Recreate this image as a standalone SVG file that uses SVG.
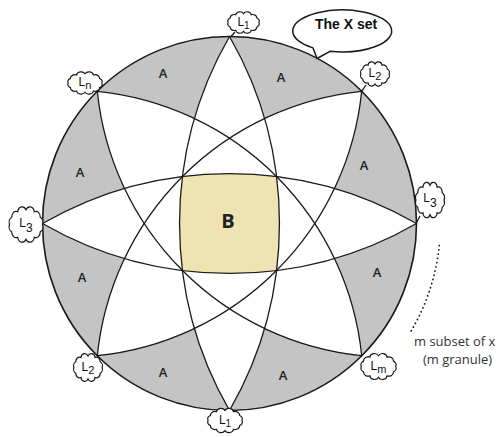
<svg xmlns="http://www.w3.org/2000/svg" width="501" height="437" viewBox="0 0 501 437">
<style>
.ln{fill:none;stroke:#1a1a1a;stroke-width:1.3;stroke-linejoin:round}
.lbl{font-family:"Open Sans","Liberation Sans",sans-serif;fill:#222;text-anchor:middle}
.a{font-size:13px;font-weight:600}
.cl{fill:#fff;stroke:#1a1a1a;stroke-width:1.2}
.ct{font-family:"Liberation Sans",Arial,sans-serif;font-size:12px;fill:#111;text-anchor:middle}
.note{font-family:"Open Sans","Liberation Sans",sans-serif;font-size:13px;fill:#333}
</style>
<defs>
<path id="vl" d="M229.5 36.5A375 375 0 0 1 229.5 410.5A375 375 0 0 1 229.5 36.5Z"/>
<path id="hl" d="M42.5 223.5A375 375 0 0 1 416.5 223.5A375 375 0 0 1 42.5 223.5Z"/>
<path id="d1" d="M97.3 91.3A296 296 0 0 1 361.7 355.7A296 296 0 0 1 97.3 91.3Z"/>
<path id="d2" d="M361.7 91.3A296 296 0 0 1 97.3 355.7A296 296 0 0 1 361.7 91.3Z"/>
<clipPath id="hclip"><use href="#hl"/></clipPath>
<path id="cloud" vector-effect="non-scaling-stroke" d="M15 0A4 4 0 0 1 12.99 5.25A4 4 0 0 1 7.5 9.09A4 4 0 0 1 0 10.5A4 4 0 0 1 -7.5 9.09A4 4 0 0 1 -12.99 5.25A4 4 0 0 1 -15 0A4 4 0 0 1 -12.99 -5.25A4 4 0 0 1 -7.5 -9.09A4 4 0 0 1 0 -10.5A4 4 0 0 1 7.5 -9.09A4 4 0 0 1 12.99 -5.25A4 4 0 0 1 15 0Z"/>
</defs>

<g id="disc"><circle cx="229.5" cy="223.5" r="187" fill="#c4c4c4"/></g>
<g id="lens-fill" fill="#fff"><use href="#vl"/><use href="#hl"/><use href="#d1"/><use href="#d2"/></g>
<g id="B-fill"><use href="#vl" fill="#efe3b2" clip-path="url(#hclip)"/></g>

<g id="connectors" class="ln">
<use href="#vl"/><use href="#hl"/><use href="#d1"/><use href="#d2"/>
<circle cx="229.5" cy="223.5" r="187" stroke-width="1.6"/>
<path d="M235 32L231 36.5M366 85L361.7 91.3M420 216L416.5 222.5"/>
<path d="M439.3 245.6A211 211 0 0 1 410.4 332.2" stroke-width="1.8" stroke-linecap="round" stroke-dasharray="0.1 4.2"/>
</g>

<g id="labels-A" class="lbl a">
<text x="163" y="78">A</text>
<text x="281" y="82">A</text>
<text x="364" y="170">A</text>
<text x="80" y="177">A</text>
<text x="82" y="282">A</text>
<text x="377" y="277">A</text>
<text x="163" y="377">A</text>
<text x="283" y="380">A</text>
</g>
<g id="label-B"><text class="lbl" x="228" y="228" font-size="20" font-weight="700" fill="#111">B</text></g>

<g id="L1-top" transform="translate(243.5,22.5)"><use href="#cloud" class="cl" transform="scale(1.03,0.85)"/><text class="ct" y="3">L<tspan font-size="10" dy="3">1</tspan></text></g>
<g id="L2-upper" transform="translate(375,74)"><use href="#cloud" class="cl" transform="scale(0.94,0.96)"/><text class="ct" y="3">L<tspan font-size="11" dy="3">2</tspan></text></g>
<g id="L3-right" transform="translate(430,200)"><use href="#cloud" class="cl" transform="scale(0.94,1.4)"/><text class="ct" y="2">L<tspan font-size="12" dy="5">3</tspan></text></g>
<g id="Lm" transform="translate(378.5,366.5)"><use href="#cloud" class="cl" transform="scale(1.15,1.03)"/><text class="ct" y="3">L<tspan font-size="11" dy="3">m</tspan></text></g>
<g id="L1-bottom" transform="translate(225,420.5)"><use href="#cloud" class="cl" transform="scale(1.13,0.96)"/><text class="ct" y="3">L<tspan font-size="10" dy="3">1</tspan></text></g>
<g id="L2-lower" transform="translate(88,367.5)"><use href="#cloud" class="cl" transform="scale(0.94,1.1)"/><text class="ct" y="3">L<tspan font-size="11" dy="3">2</tspan></text></g>
<g id="L3-left" transform="translate(26,224.5)"><use href="#cloud" class="cl" transform="scale(1.1,1.4)"/><text class="ct" y="2">L<tspan font-size="12" dy="5">3</tspan></text></g>
<g id="Ln" transform="translate(85,83)"><use href="#cloud" class="cl" transform="scale(1.12,0.88)"/><text class="ct" y="3">L<tspan font-size="11" dy="3">n</tspan></text></g>

<g id="bubble">
<path d="M330 51.3A49.5 21 0 1 0 313 47.9L317 58.5Z" fill="#fff" stroke="#1a1a1a" stroke-width="1.5" stroke-linejoin="round"/>
<text x="346" y="28.5" font-family="Liberation Sans, Arial, sans-serif" font-size="14" font-weight="700" fill="#111" text-anchor="middle">The X set</text>
</g>

<g id="note">
<text class="note" x="414" y="346">m subset of x</text>
<text class="note" x="423" y="364">(m granule)</text>
</g>
</svg>
